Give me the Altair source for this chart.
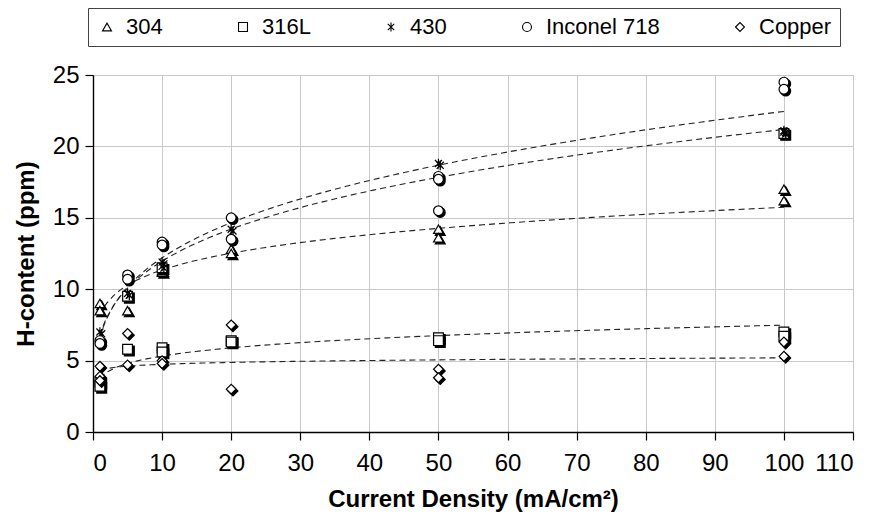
import altair as alt
import pandas as pd

series_names = ["304", "316L", "430", "Inconel 718", "Copper"]
shape_paths = ["triangle-up", "square",
               "M0,-1L0,1M-0.72,-0.72L0.72,0.72M-0.72,0.72L0.72,-0.72",
               "circle", "diamond"]
marker_colors = ["black"] * 5

x_304 = [1, 1, 5, 10, 10, 20, 20, 50, 50, 100, 100]
y_304 = [9.0, 8.5, 8.5, 11.2, 11.3, 12.8, 12.5, 14.2, 13.6, 17.0, 16.2]

x_316 = [1, 1, 5, 10, 10, 20, 20, 50, 50, 100, 100]
y_316 = [3.5, 3.2, 5.8, 5.9, 5.6, 6.4, 6.3, 6.6, 6.4, 7.0, 6.7]

# squares partly hidden behind the 430 markers (not part of the fit)
x_316_hidden = [5, 10, 100]
y_316_hidden = [9.5, 11.5, 20.9]

x_430 = [1, 5, 10, 10, 20, 50, 100, 100]
y_430 = [7.0, 9.7, 11.9, 11.6, 14.2, 18.8, 21.1, 21.0]

x_inc = [1, 1, 5, 5, 10, 10, 20, 20, 50, 50, 50, 100, 100]
y_inc = [6.4, 6.2, 11.0, 10.7, 13.3, 13.1, 15.0, 13.5, 17.9, 17.7, 15.5, 24.5, 24.0]

x_cu = [1, 1, 1, 5, 5, 10, 10, 20, 20, 50, 50, 100, 100]
y_cu = [4.6, 3.9, 3.6, 6.9, 4.7, 5.0, 4.8, 7.5, 3.0, 4.4, 3.8, 6.3, 5.3]

x_ticks = list(range(0, 111, 10))
y_ticks = list(range(0, 26, 5))

FONT = "Liberation Sans"

def frame(xs, ys, name, fit=True):
    return pd.DataFrame({"x": xs, "y": ys, "series": name, "fit": fit})

parts = {
    "304": [frame(x_304, y_304, "304")],
    "316L": [frame(x_316_hidden, y_316_hidden, "316L", False), frame(x_316, y_316, "316L")],
    "430": [frame(x_430, y_430, "430")],
    "Inconel 718": [frame(x_inc, y_inc, "Inconel 718")],
    "Copper": [frame(x_cu, y_cu, "Copper")],
}
df_all = pd.concat([pd.concat(v) for v in parts.values()], ignore_index=True)

x_enc = alt.X("x:Q", scale=alt.Scale(domain=[0, 110], nice=False),
              axis=alt.Axis(values=x_ticks, title="Current Density (mA/cm²)"))
y_enc = alt.Y("y:Q", scale=alt.Scale(domain=[0, 25], nice=False),
              axis=alt.Axis(values=y_ticks, title="H-content (ppm)"))
shape_scale = alt.Scale(domain=series_names, range=shape_paths)
stroke_scale = alt.Scale(domain=series_names, range=marker_colors)

legend = alt.Legend(
    title=None, orient="none", legendX=-5, legendY=-67, direction="horizontal",
    strokeColor="#444444", padding=8, labelFont=FONT, labelFontSize=22,
    labelColor="black", symbolSize=80, symbolFillColor="white",
    symbolStrokeColor="black", symbolStrokeWidth=1.1, symbolOpacity=1,
    columnPadding=69, labelOffset=8,
)

layers = []
for i, name in enumerate(series_names):
    d = df_all[df_all["series"] == name]
    shadow = alt.Chart(d).mark_point(
        shape=shape_paths[i],
        fill="black", stroke="black", strokeWidth=1.3, size=95,
        opacity=1, fillOpacity=1, xOffset=1.8, yOffset=1.8
    ).encode(x=x_enc, y=y_enc)
    main = alt.Chart(d).mark_point(
        filled=True, fill="white", strokeWidth=1.2, size=95, opacity=1, fillOpacity=1
    ).encode(x=x_enc, y=y_enc,
             stroke=alt.Stroke("series:N", scale=stroke_scale, legend=legend),
             shape=alt.Shape("series:N", scale=shape_scale, legend=legend))
    layers += [shadow, main]

trend = alt.Chart(df_all[df_all["fit"]]).transform_regression(
    "x", "y", method="pow", groupby=["series"], extent=[1, 100]
).mark_line(color="#222222", strokeWidth=1.1, strokeDash=[6, 4]).encode(
    x=x_enc, y=y_enc, detail="series:N"
)

chart = alt.layer(trend, *layers).resolve_scale(shape="shared").properties(
    width=760, height=357,
    autosize=alt.AutoSizeParams(type="none"),
    padding={"left": 85, "top": 67, "right": 10, "bottom": 100},
).configure_view(
    stroke="#8c8c8c", strokeWidth=1
).configure_axis(
    labelFont=FONT, titleFont=FONT, labelFontSize=24, titleFontSize=24,
    labelColor="black", titleColor="black", titleFontWeight="bold",
    gridColor="#c8c8c8", gridWidth=1, domainColor="black", domainWidth=1.4,
    tickColor="black", tickSize=8, tickWidth=1.2, labelPadding=6,
).configure_axisX(titlePadding=12, labelPadding=11).configure_axisY(titlePadding=14)

chart.save("out.html", embed_options={"renderer": "svg", "actions": False})
